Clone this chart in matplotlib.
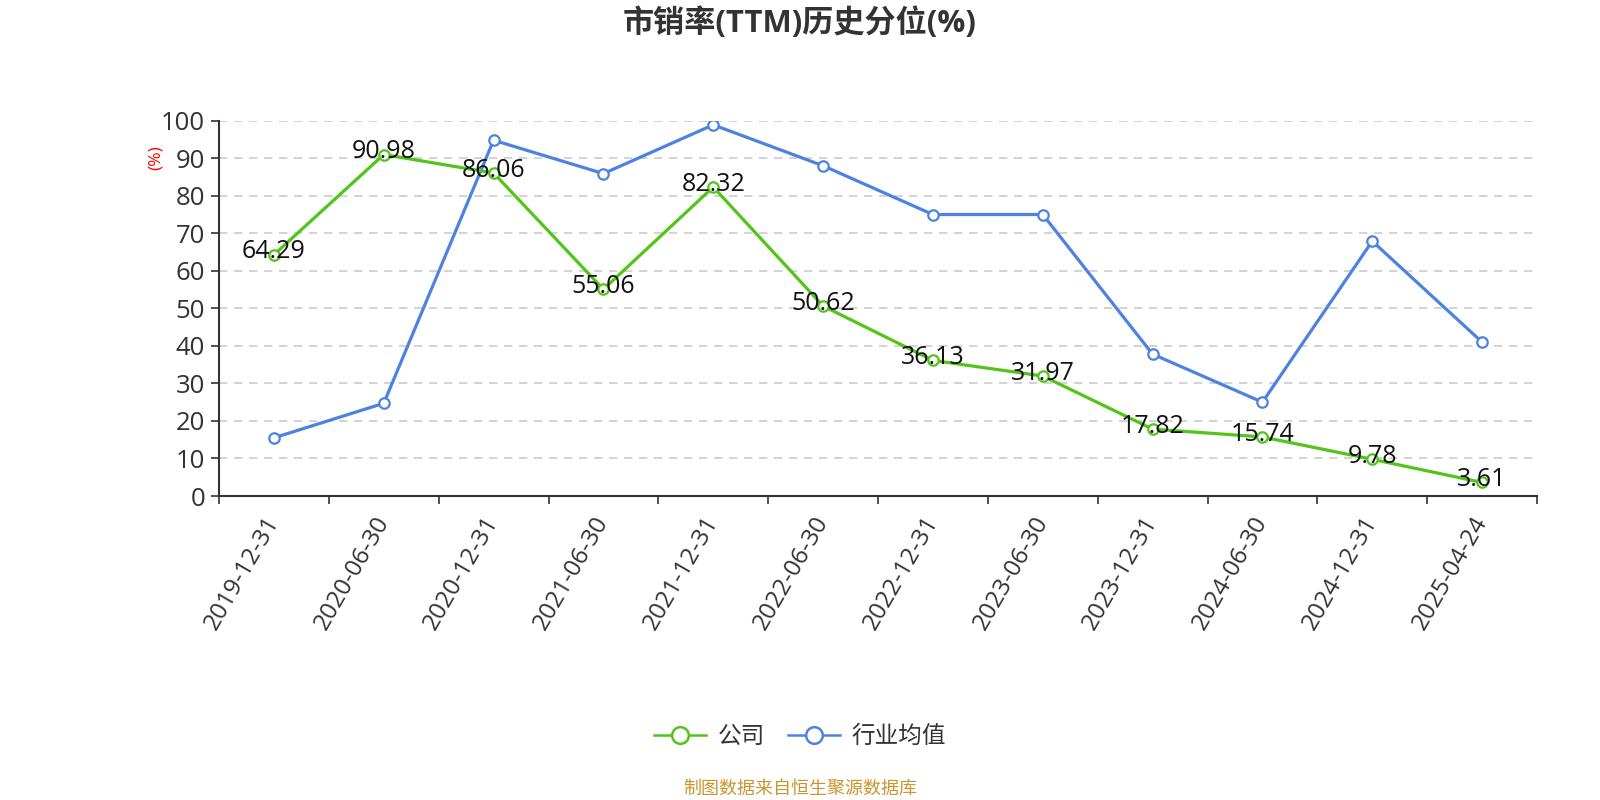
import matplotlib
matplotlib.use("Agg")
import matplotlib.pyplot as plt
from matplotlib.lines import Line2D

plt.rcParams['font.family'] = ['Open Sans', 'Noto Sans CJK SC', 'DejaVu Sans']

categories = ["2019-12-31", "2020-06-30", "2020-12-31", "2021-06-30", "2021-12-31",
              "2022-06-30", "2022-12-31", "2023-06-30", "2023-12-31", "2024-06-30",
              "2024-12-31", "2025-04-24"]
company = [64.29, 90.98, 86.06, 55.06, 82.32, 50.62, 36.13, 31.97, 17.82, 15.74, 9.78, 3.61]
industry = [15.5, 24.7, 94.8, 85.9, 98.9, 88.0, 75.0, 75.0, 37.8, 25.0, 67.9, 41.0]
y_ticks = [0, 10, 20, 30, 40, 50, 60, 70, 80, 90, 100]

green = '#52C41A'
blue = '#4E82E0'

fig = plt.figure(figsize=(16, 8), dpi=100)
ax = fig.add_axes([219/1600, 1-496/800, (1537-219)/1600, (496-120.7)/800])

x = list(range(len(categories)))
ax.plot(x, industry, color=blue, lw=2.3, marker='o', ms=7.5, mfc='white',
        mec=blue, mew=1.6, zorder=3)
ax.plot(x, company, color=green, lw=2.3, marker='o', ms=7.5, mfc='white',
        mec=green, mew=1.6, zorder=4)

for xi, v in zip(x, company):
    ax.annotate(f"{v:.2f}", (xi, v), xytext=(0, 2), textcoords='offset points',
                ha='center', va='center', fontsize=18, color='#111111', zorder=5)

ax.set_xlim(-0.5, len(categories) - 0.5)
ax.set_ylim(0, 100)
ax.set_yticks(y_ticks)
ax.set_yticklabels([str(t) for t in y_ticks], fontsize=18.5, color='#333333')
ax.set_xticks(x)
ax.set_xticklabels(categories, rotation=60, ha='right', va='center',
                   rotation_mode='anchor', fontsize=17.5, color='#333333')
ax.set_xticks([i - 0.5 for i in range(len(categories) + 1)], minor=True)
ax.tick_params(axis='x', which='major', length=0, pad=16)
ax.tick_params(axis='x', which='minor', length=6, width=1.2, color='#333333')
ax.tick_params(axis='y', length=6, width=1.2, color='#333333', pad=4)

ax.grid(axis='y', linestyle=(0, (5, 4)), color='#cccccc', lw=1.2)
ax.set_axisbelow(True)
for s in ['top', 'right']:
    ax.spines[s].set_visible(False)
for s in ['left', 'bottom']:
    ax.spines[s].set_color('#333333')
    ax.spines[s].set_linewidth(1.5)

fig.text(156/1600, 1-158/800, "(%)", color='red', fontsize=12.5, rotation=90,
         ha='center', va='center')

fig.text(0.5, 1-23/800, "市销率(TTM)历史分位(%)", fontsize=22.4, fontweight='bold',
         color='#333333', ha='center', va='center')

handles = [Line2D([0], [0], color=green, lw=1.8, marker='o', ms=12, mfc='white', mec=green, mew=1.8),
           Line2D([0], [0], color=blue, lw=1.8, marker='o', ms=12, mfc='white', mec=blue, mew=1.8)]
leg = fig.legend(handles, ["公司", "行业均值"], loc='center', bbox_to_anchor=(0.5, 1-737/800),
                 ncol=2, frameon=False, fontsize=17, handlelength=2.2, columnspacing=1.0,
                 handletextpad=0.5)
for t in leg.get_texts():
    t.set_color('#333333')

fig.text(0.5, 1-789/800, "制图数据来自恒生聚源数据库", fontsize=13, color='#C9952F',
         ha='center', va='center')

fig.savefig("out.png", dpi=100)
